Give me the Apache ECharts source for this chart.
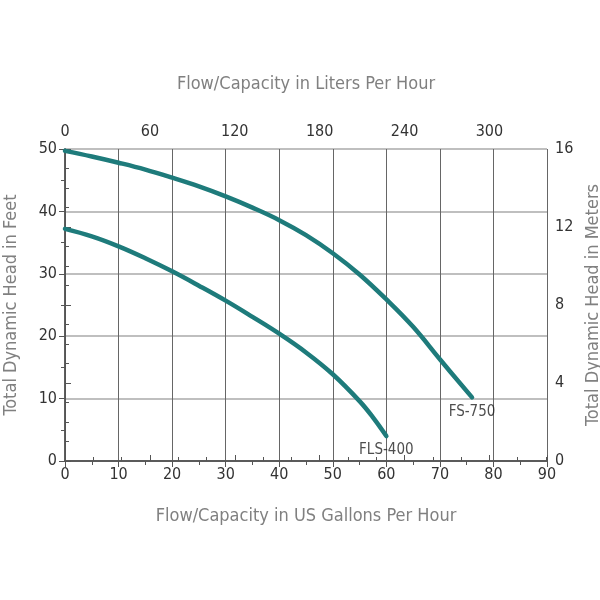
<!DOCTYPE html>
<html>
<head>
<meta charset="utf-8">
<script src="https://cdn.jsdelivr.net/npm/echarts@6/dist/echarts.min.js"></script>
<style>html,body{margin:0;padding:0;background:#fff}#c{width:600px;height:600px}</style>
</head>
<body>
<div id="c"></div>
<script>
// Flow in US gallons per hour, head in feet
var fs750Flow = [0, 5, 10, 15, 20, 25, 30, 35, 40, 45, 50, 55, 60, 65, 70, 76];
var fs750Head = [49.7, 48.8, 47.8, 46.7, 45.4, 44.0, 42.4, 40.6, 38.6, 36.2, 33.3, 29.9, 25.9, 21.5, 16.3, 10.2];
var fls400Flow = [0, 5, 10, 15, 20, 25, 30, 35, 40, 45, 50, 55, 57.5, 60];
var fls400Head = [37.2, 36.0, 34.4, 32.5, 30.4, 28.1, 25.7, 23.1, 20.4, 17.4, 13.9, 9.6, 7.0, 4.0];
var seriesNames = ['FS-750', 'FLS-400'];
var gallonTicks = [0, 90, 10];     // min, max, interval
var literTicks = [0, 60];          // min, interval
var feetTicks = [0, 50, 10];
var meterTicks = [0, 16, 4];
var L_PER_GAL = 3.785411784;

var FONT = "'Liberation Sans Narrow', 'DejaVu Sans Condensed', 'Roboto Condensed', sans-serif";
var TEAL = '#1e7b7b';
var AX = '#555';
var NAMECOL = '#808080';

function pairs(xs, ys) { return xs.map(function (x, i) { return [x, ys[i]]; }); }

var endPoints = [
  { name: seriesNames[0], value: [fs750Flow[fs750Flow.length - 1], fs750Head[fs750Head.length - 1]] },
  { name: seriesNames[1], value: [fls400Flow[fls400Flow.length - 1], fls400Head[fls400Head.length - 1]] }
];

var chart = echarts.init(document.getElementById('c'), null, { renderer: 'canvas' });
var baseLabel = { color: '#333', fontSize: 16, fontFamily: FONT };
var nameStyle = { color: NAMECOL, fontSize: 18, fontFamily: FONT };

chart.setOption({
  animation: false,
  grid: { left: 65, right: 53, top: 149, bottom: 139, containLabel: false, outerBoundsMode: 'none' },
  xAxis: [
    {
      type: 'value', position: 'bottom',
      min: gallonTicks[0], max: gallonTicks[1], interval: gallonTicks[2],
      name: 'Flow/Capacity in US Gallons Per Hour', nameLocation: 'middle', nameGap: 46,
      nameTextStyle: nameStyle,
      axisLine: { show: true, lineStyle: { color: AX, width: 1.5 } },
      axisTick: { show: true, inside: false, length: 6, lineStyle: { color: AX } },
      minorTick: { show: true, splitNumber: 2, length: 4, lineStyle: { color: AX } },
      axisLabel: Object.assign({ margin: 6 }, baseLabel),
      splitLine: { show: true, lineStyle: { color: '#666', width: 1 } }
    },
    {
      type: 'value', position: 'top',
      min: literTicks[0], max: gallonTicks[1] * L_PER_GAL, interval: literTicks[1],
      name: 'Flow/Capacity in Liters Per Hour', nameLocation: 'middle', nameGap: 56,
      nameTextStyle: nameStyle,
      axisLine: { show: true, lineStyle: { color: AX, width: 1.5 } },
      axisTick: { show: true, length: 6, lineStyle: { color: AX } },
      minorTick: { show: true, splitNumber: 3, length: 4, lineStyle: { color: AX } },
      axisLabel: Object.assign({ margin: 9, showMaxLabel: false }, baseLabel),
      splitLine: { show: false }
    }
  ],
  yAxis: [
    {
      type: 'value', position: 'left',
      min: feetTicks[0], max: feetTicks[1], interval: feetTicks[2],
      name: 'Total Dynamic Head in Feet', nameLocation: 'middle', nameGap: 45,
      nameTextStyle: nameStyle,
      axisLine: { show: true, lineStyle: { color: AX, width: 1.5 } },
      axisTick: { show: true, length: 6, lineStyle: { color: AX } },
      minorTick: { show: true, splitNumber: 2, length: 4, lineStyle: { color: AX } },
      axisLabel: Object.assign({ margin: 8 }, baseLabel),
      splitLine: { show: true, lineStyle: { color: '#aaa', width: 1.5 } }
    },
    {
      type: 'value', position: 'right',
      min: meterTicks[0], max: meterTicks[1], interval: meterTicks[2],
      name: 'Total Dynamic Head in Meters', nameLocation: 'middle', nameGap: 31,
      nameTextStyle: nameStyle,
      axisLine: { show: true, lineStyle: { color: AX, width: 1.5 } },
      axisTick: { show: true, length: 6, lineStyle: { color: AX } },
      minorTick: { show: true, splitNumber: 4, length: 4, lineStyle: { color: AX } },
      axisLabel: Object.assign({ margin: 8 }, baseLabel),
      splitLine: { show: false }
    }
  ],
  series: [
    {
      name: seriesNames[0], type: 'line', xAxisIndex: 0, yAxisIndex: 0,
      data: pairs(fs750Flow, fs750Head),
      smooth: 0.4, showSymbol: false, symbol: 'none',
      lineStyle: { color: TEAL, width: 4.5, cap: 'round' }
    },
    {
      name: seriesNames[1], type: 'line', xAxisIndex: 0, yAxisIndex: 0,
      data: pairs(fls400Flow, fls400Head),
      smooth: 0.4, showSymbol: false, symbol: 'none',
      lineStyle: { color: TEAL, width: 4.5, cap: 'round' }
    },
    {
      name: 'labels', type: 'scatter', xAxisIndex: 0, yAxisIndex: 0,
      data: endPoints, symbol: 'circle', symbolSize: 2,
      itemStyle: { color: 'rgba(0,0,0,0)' },
      label: { show: true, position: 'bottom', distance: 6, formatter: '{b}',
        color: '#222', fontSize: 15, fontFamily: FONT },
      z: 5
    }
  ]
});
</script>
</body>
</html>
